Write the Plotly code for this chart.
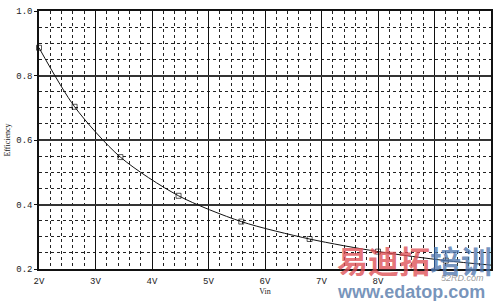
import plotly.graph_objects as go

vin = [2.0, 2.63, 3.44, 4.47, 5.58, 6.79, 8.0, 9.2, 10.0]
efficiency = [0.886, 0.703, 0.547, 0.427, 0.347, 0.293, 0.254, 0.226, 0.212]
x_ticks = [2, 3, 4, 5, 6, 7, 8, 9, 10]
x_labels = ["2V", "3V", "4V", "5V", "6V", "7V", "8V", "", ""]
y_ticks = [0.2, 0.4, 0.6, 0.8, 1.0]
y_labels = ["0.2", "0.4", "0.6", "0.8", "1.0"]

fig = go.Figure()
fig.add_trace(go.Scatter(
    x=vin, y=efficiency, mode="lines+markers",
    line=dict(color="#111111", width=1, shape="spline", smoothing=0.8),
    marker=dict(symbol="square-open", size=[5] * (len(vin) - 1) + [0],
                color="#111111", line=dict(width=1)),
    showlegend=False, cliponaxis=False,
))

tickfont = dict(family="Liberation Mono", size=9, color="#222222")
fig.update_layout(
    width=500, height=301,
    margin=dict(l=36, r=7, t=8, b=26),
    paper_bgcolor="white", plot_bgcolor="white",
    xaxis=dict(
        range=[2, 10], tickvals=x_ticks, ticktext=x_labels,
        showgrid=True, gridcolor="#111111", gridwidth=1,
        minor=dict(dtick=0.2, showgrid=True, gridcolor="#222222",
                   griddash="dot", gridwidth=1),
        showline=True, linecolor="#111111", linewidth=1.5, mirror=True,
        zeroline=False, tickfont=tickfont, ticks="", ticklabelstandoff=2,
        title=dict(text="Vin", font=dict(family="Liberation Serif", size=8, color="#222222"),
                   standoff=2),
    ),
    yaxis=dict(
        range=[0.2, 1.0], tickvals=y_ticks, ticktext=y_labels,
        showgrid=True, gridcolor="#333333", gridwidth=2,
        minor=dict(dtick=0.05, showgrid=True, gridcolor="#222222",
                   griddash="dot", gridwidth=1),
        showline=True, linecolor="#111111", linewidth=1.5, mirror=True,
        zeroline=False, tickfont=tickfont, ticks="outside", ticklen=3,
        tickcolor="#111111",
        title=dict(text="Efficiency", font=dict(family="Liberation Serif", size=8, color="#222222"),
                   standoff=4),
    ),
)

# watermark
fig.add_annotation(
    xref="paper", yref="paper", x=0.655, y=0.037, xanchor="left", yanchor="middle",
    text="<b><span style='color:rgba(222,80,85,0.8)'>易迪拓</span>"
         "<span style='color:rgba(80,120,175,0.8)'>培训</span></b>",
    showarrow=False, font=dict(family="Noto Sans CJK SC", size=31))
fig.add_annotation(xref="paper", yref="paper", x=0.655, y=-0.09, xanchor="left", yanchor="middle",
                   text="<b>www.edatop.com</b>", showarrow=False,
                   font=dict(family="Liberation Sans", size=18, color="rgba(95,130,175,0.85)"))
fig.add_annotation(xref="paper", yref="paper", x=0.885, y=-0.035, xanchor="left", yanchor="middle",
                   text="<i>52RD.com</i>", showarrow=False,
                   font=dict(family="Liberation Sans", size=9, color="rgba(130,130,130,0.8)"))

fig.write_html("out.html")
